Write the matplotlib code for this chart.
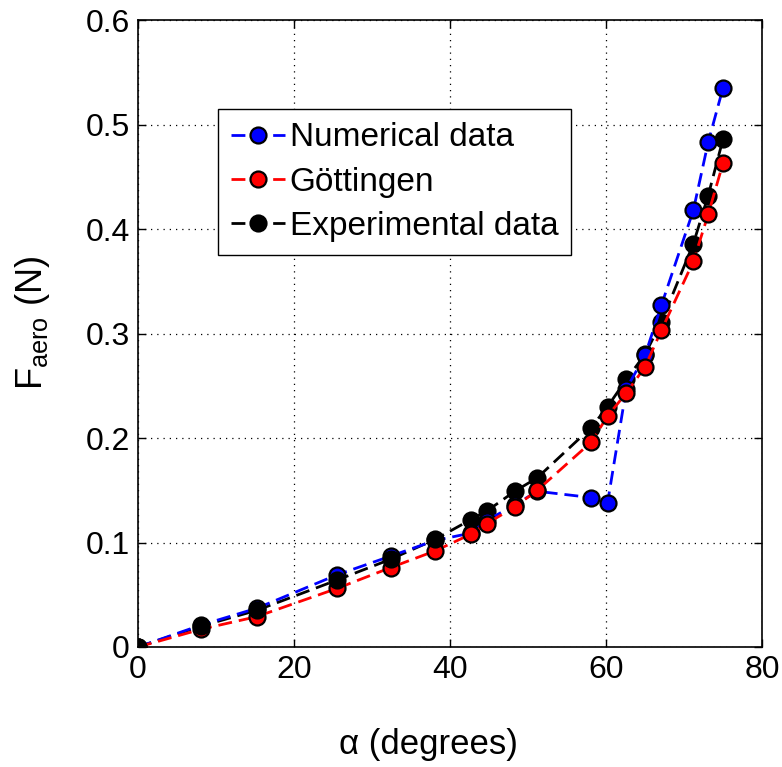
import numpy as np
import matplotlib
matplotlib.use("Agg")
import matplotlib.pyplot as plt

plt.rcParams['font.family'] = ['Liberation Sans', 'DejaVu Sans']
plt.rcParams['mathtext.default'] = 'regular'

# Data
alpha = [0, 8.1, 15.2, 25.5, 32.4, 38.1, 42.7, 44.7, 48.3, 51.2, 58.1, 60.2, 62.6, 65.0, 67.1, 71.2, 73.1, 75.0]
numerical = [0, 0.021, 0.037, 0.069, 0.087, 0.102, 0.109, 0.121, 0.136, 0.149, 0.143, 0.138, 0.247, 0.279, 0.327, 0.418, 0.483, 0.535]
gottingen = [0, 0.017, 0.029, 0.056, 0.076, 0.092, 0.108, 0.118, 0.134, 0.150, 0.196, 0.221, 0.243, 0.268, 0.303, 0.369, 0.414, 0.463]
experimental = [0, 0.020, 0.035, 0.064, 0.084, 0.103, 0.122, 0.130, 0.149, 0.162, 0.210, 0.230, 0.256, 0.280, 0.311, 0.386, 0.432, 0.486]

xticks = [0, 20, 40, 60, 80]
yticks = [0, 0.1, 0.2, 0.3, 0.4, 0.5, 0.6]
ytick_labels = ['0', '0.1', '0.2', '0.3', '0.4', '0.5', '0.6']

fig = plt.figure(figsize=(7.82, 7.67), dpi=100)
ax = fig.add_axes([138/782, 1-647/767, 624/782, 627/767])

ms = 11.5
mew = 1.6
dash = (5, 2.5)

x = np.array(alpha)
exp = np.array(experimental)
low = x < 40

ax.plot(alpha, numerical, '--', color='blue', lw=2, dashes=dash, zorder=3)
ax.plot(alpha, gottingen, '--', color='red', lw=2, dashes=dash, zorder=4)
ax.plot(alpha, experimental, '--', color='black', lw=2, dashes=dash, zorder=2.5)
ax.plot(x[~low], exp[~low], 'o', ls='none', mfc='black', mec='black', ms=ms, mew=mew, zorder=2.6)
ax.plot(alpha, numerical, 'o', ls='none', mfc='blue', mec='black', ms=ms, mew=mew, zorder=3.1)
ax.plot(alpha, gottingen, 'o', ls='none', mfc='red', mec='black', ms=ms, mew=mew, zorder=4.1)
ax.plot(x[low], exp[low], 'o', ls='none', mfc='black', mec='black', ms=ms, mew=mew, zorder=5)

# legend handles
h1, = ax.plot([], [], '--', color='blue', lw=2, dashes=dash, marker='o', mfc='blue', mec='black', ms=ms, mew=mew)
h2, = ax.plot([], [], '--', color='red', lw=2, dashes=dash, marker='o', mfc='red', mec='black', ms=ms, mew=mew)
h3, = ax.plot([], [], '--', color='black', lw=2, dashes=dash, marker='o', mfc='black', mec='black', ms=ms, mew=mew)

ax.set_xlim(0, 80)
ax.set_ylim(0, 0.6)
ax.set_xticks(xticks)
ax.set_yticks(yticks)
ax.set_yticklabels(ytick_labels)
ax.tick_params(direction='in', length=6, width=1, labelsize=23, top=True, right=True, pad=6)
ax.grid(True, color='black', linestyle=(0, (1, 4)), lw=0.9)
for s in ax.spines.values():
    s.set_linewidth(1.2)

ax.set_xlabel('α (degrees)', fontsize=25)
ax.xaxis.set_label_coords((428 - 138) / 624, -(728 - 647) / 627)
ax.set_ylabel('$F_{aero}$ (N)', fontsize=26)
ax.yaxis.set_label_coords(-(138 - 52) / 624, (647 - 323) / 627)

leg = ax.legend([h1, h2, h3], ['Numerical data', 'Göttingen', 'Experimental data'],
                loc='upper left', bbox_to_anchor=(0.128, 0.858), borderaxespad=0,
                fontsize=24, fancybox=False, framealpha=1, edgecolor='black',
                handlelength=1.6, handletextpad=0.15, labelspacing=0.4, borderpad=0.4)
leg.get_frame().set_linewidth(1.0)
leg.set_zorder(10)

fig.savefig('out.png', dpi=100)
